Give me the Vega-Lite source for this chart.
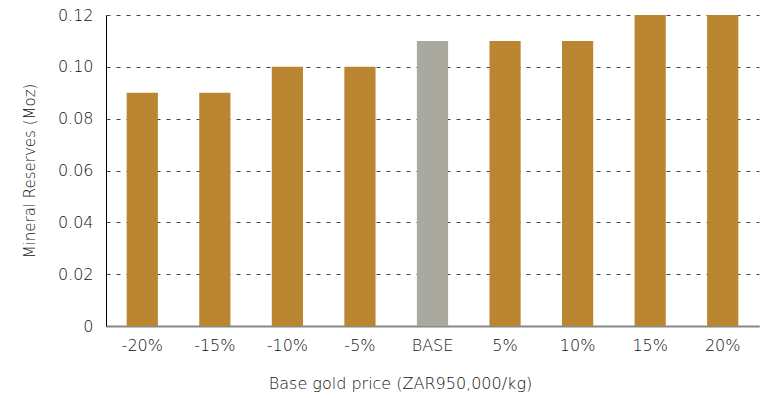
{
  "$schema": "https://vega.github.io/schema/vega-lite/v6.json",
  "autosize": "none",
  "width": 653,
  "height": 311,
  "padding": {"left": 106, "top": 15, "right": 3, "bottom": 72},
  "background": "white",
  "config": {
    "view": {"stroke": null},
    "font": "DejaVu Sans",
    "axis": {"labelFont": "DejaVu Sans", "titleFont": "DejaVu Sans", "labelColor": "#111", "titleColor": "#111", "titleFontWeight": 200, "labelFontWeight": 200}
  },
  "data": {
    "values": [
      {"scenario": "-20%", "reserves": 0.09, "type": "alt"},
      {"scenario": "-15%", "reserves": 0.09, "type": "alt"},
      {"scenario": "-10%", "reserves": 0.10, "type": "alt"},
      {"scenario": "-5%", "reserves": 0.10, "type": "alt"},
      {"scenario": "BASE", "reserves": 0.11, "type": "base"},
      {"scenario": "5%", "reserves": 0.11, "type": "alt"},
      {"scenario": "10%", "reserves": 0.11, "type": "alt"},
      {"scenario": "15%", "reserves": 0.12, "type": "alt"},
      {"scenario": "20%", "reserves": 0.12, "type": "alt"}
    ]
  },
  "mark": {"type": "bar"},
  "encoding": {
    "x": {
      "field": "scenario",
      "type": "nominal",
      "sort": null,
      "scale": {"paddingInner": 0.57, "paddingOuter": 0.285},
      "axis": {
        "title": "Base gold price (ZAR950,000/kg)",
        "labelAngle": 0,
        "labelFontSize": 16,
        "titleFontSize": 16,
        "labelPadding": 11,
        "titlePadding": 22,
        "titleX": 294,
        "titleAlign": "center",
        "ticks": false,
        "domainColor": "#888",
        "domainWidth": 2,
        "grid": false
      }
    },
    "y": {
      "field": "reserves",
      "type": "quantitative",
      "scale": {"domain": [0, 0.12], "nice": false},
      "axis": {
        "title": "Mineral Reserves (Moz)",
        "values": [0, 0.02, 0.04, 0.06, 0.08, 0.1, 0.12],
        "labelExpr": "datum.value == 0 ? '0' : format(datum.value, '.2f')",
        "labelFontSize": 16,
        "titleFontSize": 15,
        "labelPadding": 13,
        "titlePadding": 20,
        "ticks": false,
        "domainColor": "#000",
        "domainWidth": 1,
        "grid": true,
        "gridDash": [4, 6],
        "gridColor": "#444",
        "gridWidth": 1
      }
    },
    "color": {
      "field": "type",
      "type": "nominal",
      "scale": {"domain": ["alt", "base"], "range": ["#BA8631", "#A9A99F"]},
      "legend": null
    }
  }
}
